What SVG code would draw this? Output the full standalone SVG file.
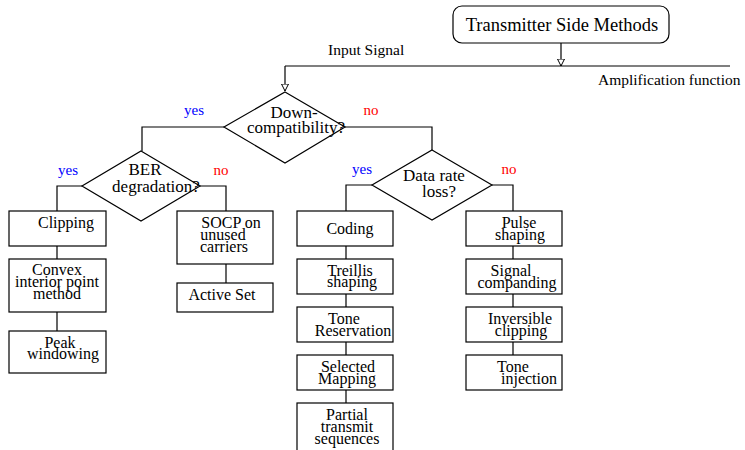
<svg xmlns="http://www.w3.org/2000/svg" width="745" height="450" viewBox="0 0 745 450">
<defs>
<marker id="arr" markerWidth="8" markerHeight="12" viewBox="0 0 8 12" refX="7.5" refY="6" orient="auto" markerUnits="userSpaceOnUse">
<path d="M0.5,2.5 L7.5,6 L0.5,9.5 Z" fill="#fff" stroke="#000" stroke-width="1"/>
</marker>
</defs>
<style>
text{font-family:"Liberation Serif","Times New Roman",serif;fill:#000;text-anchor:middle}
.n{font-size:16px}
.d{font-size:17px}
.l{font-size:15.5px;text-anchor:start}
.y{font-size:15px;fill:#0000ff}
.no{font-size:15px;fill:#ff0000}
.b{fill:#fff;stroke:#000;stroke-width:1.2}
.c path{fill:none;stroke:#000;stroke-width:1.2}
</style>
<g class="c" id="connectors">
<path d="M561,43 V66" marker-end="url(#arr)"/>
<path d="M285,66 H730"/>
<path d="M285,66 V91" marker-end="url(#arr)"/>
<path d="M224,127 H142 V151"/>
<path d="M345,127 H432 V150"/>
<path d="M82,186 H57 V211"/>
<path d="M200,186 H226 V211"/>
<path d="M372,185 H346 V211"/>
<path d="M492,185 H513 V211"/>
<path d="M57,246 V259 M57,312 V331"/>
<path d="M226,264 V283"/>
<path d="M346,246 V259 M346,294 V307 M346,342 V355 M346,390 V403"/>
<path d="M513,246 V259 M513,294 V307 M513,342 V355"/>
</g>
<text class="l" x="328" y="55">Input Signal</text>
<text class="l" x="598" y="85">Amplification function</text>
<text class="y" x="194" y="115">yes</text>
<text class="no" x="371" y="115">no</text>
<text class="y" x="68" y="175">yes</text>
<text class="no" x="221" y="175">no</text>
<text class="y" x="362" y="174">yes</text>
<text class="no" x="509" y="174">no</text>
<g id="top">
<rect class="b" x="453" y="6" width="216" height="37" rx="9"/>
<text x="562" y="31" style="font-size:18.5px">Transmitter Side Methods</text>
</g>
<g id="down">
<polygon class="b" points="285,92 345,127 285,163 224,127"/>
<text class="d" x="294" y="118">Down-</text>
<text class="d" x="296" y="133">compatibility?</text>
</g>
<g id="ber">
<polygon class="b" points="141,151 200,186 141,221 82,186"/>
<text class="d" x="145" y="175">BER</text>
<text class="d" x="156" y="192">degradation?</text>
</g>
<g id="datarate">
<polygon class="b" points="432,150 492,185 432,220 372,185"/>
<text class="d" x="434" y="181">Data rate</text>
<text class="d" x="439" y="197">loss?</text>
</g>
<g id="clipping">
<rect class="b" x="9" y="211" width="97" height="35"/>
<text class="n" x="66" y="228">Clipping</text>
</g>
<g id="convex">
<rect class="b" x="9" y="259" width="97" height="53"/>
<text class="n" x="57" y="275">Convex</text>
<text class="n" x="57" y="287">interior point</text>
<text class="n" x="57" y="299">method</text>
</g>
<g id="peak">
<rect class="b" x="9" y="331" width="97" height="42"/>
<text class="n" x="60" y="348">Peak</text>
<text class="n" x="63" y="359">windowing</text>
</g>
<g id="socp">
<rect class="b" x="177" y="211" width="96" height="53"/>
<text class="n" x="231" y="228">SOCP on</text>
<text class="n" x="223" y="240">unused</text>
<text class="n" x="224" y="252">carriers</text>
</g>
<g id="activeset">
<rect class="b" x="177" y="283" width="96" height="29"/>
<text class="n" x="222" y="300">Active Set</text>
</g>
<g id="coding">
<rect class="b" x="297" y="211" width="96" height="35"/>
<text class="n" x="350" y="234">Coding</text>
</g>
<g id="treillis">
<rect class="b" x="297" y="259" width="96" height="35"/>
<text class="n" x="350" y="276">Treillis</text>
<text class="n" x="352" y="287">shaping</text>
</g>
<g id="tonereservation">
<rect class="b" x="297" y="307" width="96" height="35"/>
<text class="n" x="344" y="324">Tone</text>
<text class="n" x="353" y="336">Reservation</text>
</g>
<g id="selected">
<rect class="b" x="297" y="355" width="96" height="35"/>
<text class="n" x="348" y="372">Selected</text>
<text class="n" x="347" y="384">Mapping</text>
</g>
<g id="partial">
<rect class="b" x="297" y="403" width="96" height="50"/>
<text class="n" x="347" y="420">Partial</text>
<text class="n" x="347" y="432">transmit</text>
<text class="n" x="347" y="444">sequences</text>
</g>
<g id="pulse">
<rect class="b" x="466" y="211" width="96" height="35"/>
<text class="n" x="519" y="228">Pulse</text>
<text class="n" x="520" y="240">shaping</text>
</g>
<g id="signal">
<rect class="b" x="466" y="259" width="96" height="35"/>
<text class="n" x="511" y="276">Signal</text>
<text class="n" x="517" y="288">companding</text>
</g>
<g id="inversible">
<rect class="b" x="466" y="307" width="96" height="35"/>
<text class="n" x="520" y="324">Inversible</text>
<text class="n" x="521" y="336">clipping</text>
</g>
<g id="toneinjection">
<rect class="b" x="466" y="355" width="96" height="35"/>
<text class="n" x="513" y="372">Tone</text>
<text class="n" x="529" y="384">injection</text>
</g>
</svg>
